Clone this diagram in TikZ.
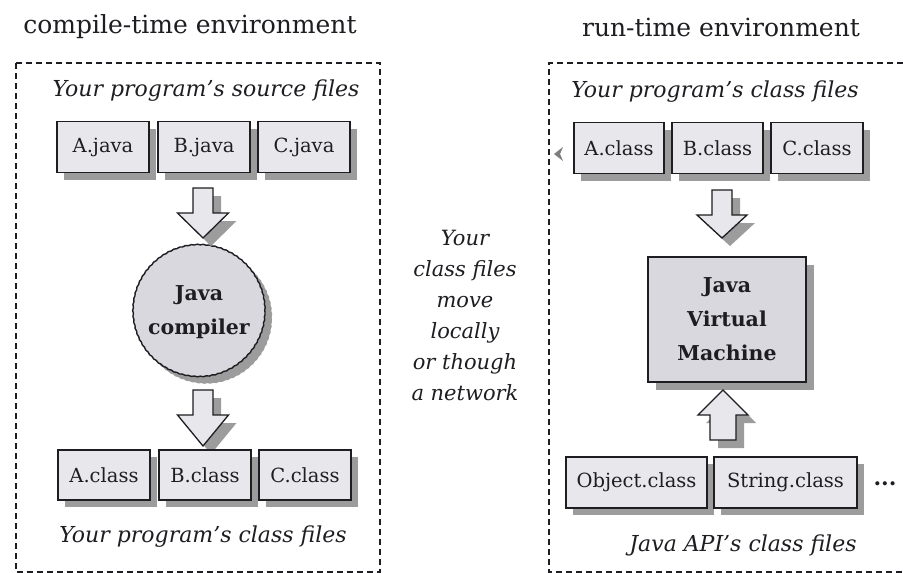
\documentclass[tikz,border=0pt]{standalone}
\usepackage{fontspec}
\setmainfont{DejaVu Serif}
\usetikzlibrary{shadows,decorations.pathmorphing,calc}
\definecolor{boxfill}{HTML}{E8E8EC}
\definecolor{darkfill}{HTML}{D8D8DE}
\definecolor{shadowc}{HTML}{9C9C9C}
\definecolor{inkc}{HTML}{1E1E22}
\tikzset{
  frame/.style={draw=inkc, line width=1.5pt, dash pattern=on 6pt off 4pt},
  title/.style={font=\fontsize{25}{28}\selectfont, text=inkc},
  lbl/.style={font=\fontsize{22}{26}\selectfont\itshape, text=inkc},
  filebox/.style={draw=inkc, line width=1.5pt, fill=boxfill, minimum height=51pt,
    inner sep=0pt, font=\fontsize{19.5}{22}\selectfont, text=inkc,
    drop shadow={shadow xshift=7pt, shadow yshift=-7pt, fill=shadowc, opacity=1}},
  arrowbody/.style={draw=inkc, line width=1.3pt, fill=boxfill, line join=miter},
  arrowshadow/.style={fill=shadowc},
  bigbold/.style={font=\fontsize{20.5}{34}\selectfont\bfseries, text=inkc, align=center},
}
% vertical block arrow: #1 = x, #2 = tail y, #3 = head base y, #4 = tip y, #5 = shaft half, #6 = head half
\newcommand\blockarrowv[6]{%
  \fill[arrowshadow] ({#1-#5+8},{#2+8}) -- ({#1+#5+8},{#2+8}) -- ({#1+#5+8},{#3+8})
    -- ({#1+#6+8},{#3+8}) -- ({#1+8},{#4+8}) -- ({#1-#6+8},{#3+8}) -- ({#1-#5+8},{#3+8}) -- cycle;
  \draw[arrowbody] ({#1-#5},{#2}) -- ({#1+#5},{#2}) -- ({#1+#5},{#3})
    -- ({#1+#6},{#3}) -- ({#1},{#4}) -- ({#1-#6},{#3}) -- ({#1-#5},{#3}) -- cycle;
}
\begin{document}
\begin{tikzpicture}[x=1pt,y=-1pt]
\useasboundingbox (0,0) rectangle (903,573);
\fill[white] (0,0) rectangle (903,573);
% titles
\node[title] (t1) at (190,27) {compile-time environment};
\node[title] (t2) at (721,27) {run-time environment};
% frames
\draw[frame] (16,63) rectangle (380,572);
\draw[frame] (903,63) -| (549,572) -- (903,572);
% left side
\node[lbl] (srclbl) at (206,91) {Your program’s source files};
\node[filebox, minimum width=92pt] (Aj) at (103,147) {A.java};
\node[filebox, minimum width=92pt] (Bj) at (204,147) {B.java};
\node[filebox, minimum width=92pt] (Cj) at (304,147) {C.java};
\node[circle, draw=inkc, line width=1.4pt, fill=darkfill, minimum size=132pt, inner sep=0pt,
  decorate, decoration={snake, amplitude=0.35pt, segment length=6pt},
  drop shadow={shadow xshift=7pt, shadow yshift=-7pt, fill=shadowc, opacity=1},
  bigbold] (comp) at (199,312) {Java\\compiler};
\blockarrowv{203}{188}{213}{238}{10}{25.5}
\blockarrowv{203}{390}{415}{446}{10}{25.5}
\node[filebox, minimum width=92pt, minimum height=50pt] (Ac) at (104,475) {A.class};
\node[filebox, minimum width=92pt, minimum height=50pt] (Bc) at (205,475) {B.class};
\node[filebox, minimum width=92pt, minimum height=50pt] (Cc) at (305,475) {C.class};
\node[lbl] (clslbl) at (203,537) {Your program’s class files};
% middle
\node[lbl, align=center, font=\fontsize{21}{31}\selectfont\itshape] (mid) at (465,315)
  {Your\\class files\\move\\locally\\or though\\a network};
% right side
\node[lbl] (rlbl) at (715,92) {Your program’s class files};
\node[filebox, minimum width=90pt] (rA) at (619,148) {A.class};
\node[filebox, minimum width=91pt] (rB) at (717.5,148) {B.class};
\node[filebox, minimum width=92pt] (rC) at (817,148) {C.class};
\blockarrowv{722}{190}{215}{238}{10}{25}
\node[draw=inkc, line width=1.5pt, fill=darkfill, minimum width=158pt, minimum height=125pt,
  drop shadow={shadow xshift=8pt, shadow yshift=-8pt, fill=shadowc, opacity=1},
  bigbold] (jvm) at (727,319.5) {Java\\Virtual\\Machine};
\blockarrowv{723}{440}{415}{390}{13}{25}
\node[filebox, minimum width=141pt] (obj) at (636.5,482.5) {Object.class};
\node[filebox, minimum width=143pt] (str) at (785.5,482.5) {String.class};
\node[font=\fontsize{22}{24}\selectfont\bfseries, text=inkc] (dots) at (885,484) {...};
\node[lbl] (apilbl) at (743,545) {Java API’s class files};
% small mark
\fill[shadowc!80!black] (554,154) -- (563,147) -- (560,154) -- (563,161) -- cycle;
\end{tikzpicture}
\end{document}
